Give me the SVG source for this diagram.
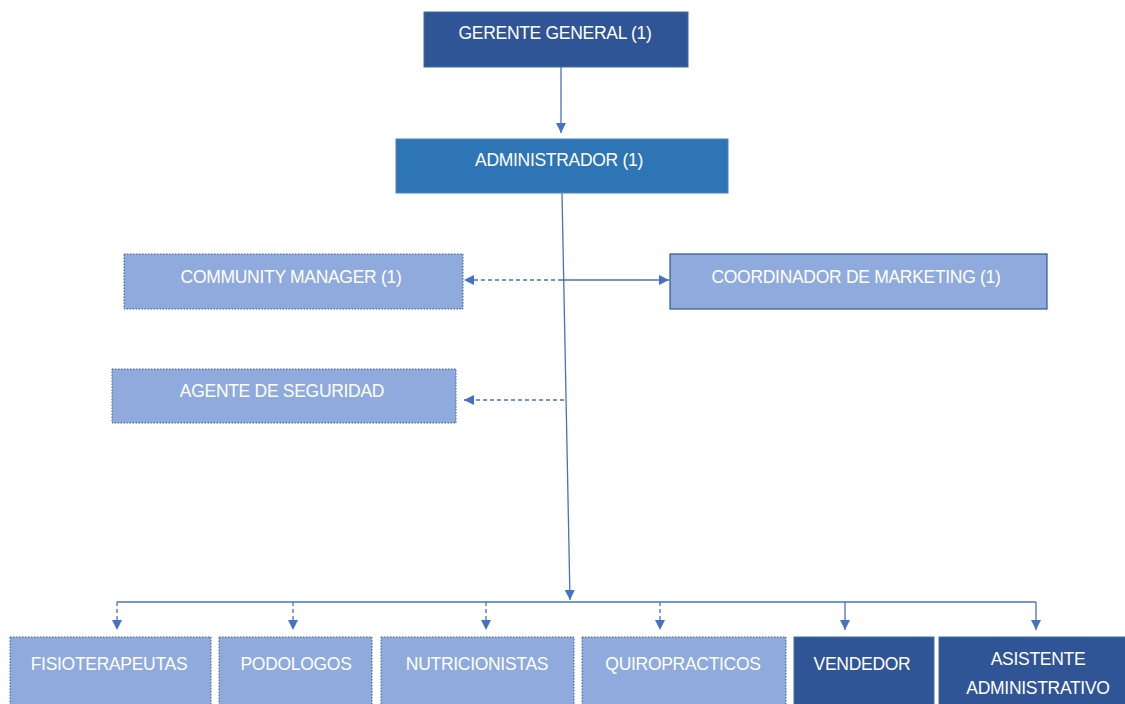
<svg xmlns="http://www.w3.org/2000/svg" width="1125" height="704" viewBox="0 0 1125 704">
<style>
.dark{fill:#2F5597;stroke:#41719C;stroke-width:1}
.mid{fill:#2E75B6;stroke:#4A86C0;stroke-width:1}
.light{fill:#8FAADC;stroke:#3C5C96;stroke-width:1;stroke-dasharray:1.5 1.5}
.lightsolid{fill:#8FAADC;stroke:#2F5597;stroke-width:1.2}
text{font-family:"Liberation Sans",Arial,sans-serif;font-size:17.5px;fill:#FFFFFF;text-anchor:middle;letter-spacing:-0.3px}
.c{fill:none;stroke:#4472C4;stroke-width:1.3}
.d{stroke-dasharray:4 3}
</style>
<defs>
<marker id="ah" viewBox="0 0 10 10" refX="10" refY="5" markerWidth="10" markerHeight="10" markerUnits="userSpaceOnUse" orient="auto">
<path d="M0,0 L10,5 L0,10 Z" fill="#4472C4"/>
</marker>
</defs>
<rect width="1125" height="704" fill="#FFFFFF"/>
<g id="connectors">
<line class="c" x1="561" y1="67" x2="561" y2="133" marker-end="url(#ah)"/>
<line class="c" x1="562" y1="193" x2="570" y2="600" marker-end="url(#ah)"/>
<line class="c d" x1="562" y1="280" x2="464" y2="280" marker-end="url(#ah)"/>
<line class="c" x1="562" y1="280" x2="669" y2="280" marker-end="url(#ah)"/>
<line class="c d" x1="564" y1="400" x2="464" y2="400" marker-end="url(#ah)"/>
<line class="c" x1="117" y1="602" x2="1036" y2="602"/>
<line class="c d" x1="117" y1="602" x2="117" y2="630" marker-end="url(#ah)"/>
<line class="c d" x1="293" y1="602" x2="293" y2="630" marker-end="url(#ah)"/>
<line class="c d" x1="486" y1="602" x2="486" y2="630" marker-end="url(#ah)"/>
<line class="c d" x1="660" y1="602" x2="660" y2="630" marker-end="url(#ah)"/>
<line class="c" x1="845" y1="602" x2="845" y2="630" marker-end="url(#ah)"/>
<line class="c" x1="1036" y1="602" x2="1036" y2="630" marker-end="url(#ah)"/>
</g>
<g id="gerente"><rect class="dark" x="424" y="12" width="264" height="55"/><text x="555" y="39">GERENTE GENERAL (1)</text></g>
<g id="administrador"><rect class="mid" x="396" y="139" width="332" height="54"/><text x="559" y="166">ADMINISTRADOR (1)</text></g>
<g id="community"><rect class="light" x="124" y="254" width="339" height="55"/><text x="291" y="283">COMMUNITY MANAGER (1)</text></g>
<g id="coordinador"><rect class="lightsolid" x="670" y="254" width="377" height="55"/><text x="856" y="283">COORDINADOR DE MARKETING (1)</text></g>
<g id="agente"><rect class="light" x="112" y="369" width="344" height="54"/><text x="282" y="397">AGENTE DE SEGURIDAD</text></g>
<g id="fisio"><rect class="light" x="10" y="637" width="201" height="70"/><text x="109" y="670">FISIOTERAPEUTAS</text></g>
<g id="podologos"><rect class="light" x="219" y="637" width="153" height="70"/><text x="296" y="670">PODOLOGOS</text></g>
<g id="nutricionistas"><rect class="light" x="381" y="637" width="193" height="70"/><text x="477" y="670">NUTRICIONISTAS</text></g>
<g id="quiropracticos"><rect class="light" x="582" y="637" width="204" height="70"/><text x="683" y="670">QUIROPRACTICOS</text></g>
<g id="vendedor"><rect class="dark" x="794" y="637" width="140" height="70"/><text x="862" y="670">VENDEDOR</text></g>
<g id="asistente"><rect class="dark" x="939" y="637" width="190" height="70"/><text x="1038" y="665">ASISTENTE</text><text x="1038" y="694">ADMINISTRATIVO</text></g>
</svg>
